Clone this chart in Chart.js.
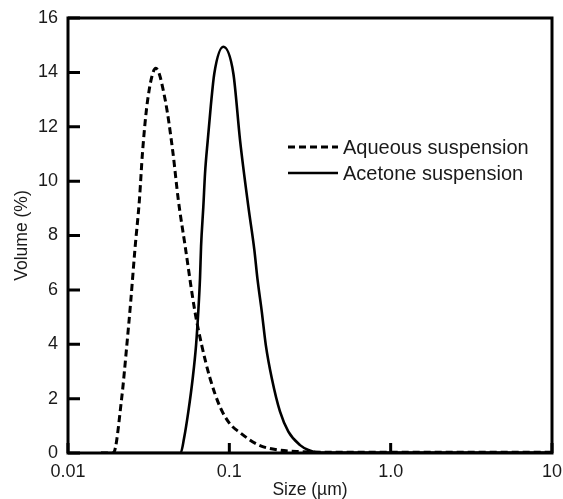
<!DOCTYPE html>
<html lang="en">
<head>
    <meta charset="UTF-8">
    <title>Volume vs size</title>
    <script src="https://cdn.jsdelivr.net/npm/chart.js"></script>
    <style>
        body {
            margin: 0;
            padding: 0;
            background-color: #ffffff;
        }
        .chart-box {
            width: 563px;
            height: 499px;
        }
    </style>
</head>
<body>

<div class="chart-box">
    <canvas id="sizeChart" width="563" height="499"></canvas>
</div>

<script>
    // Dados (tamanho em µm, volume em %)
    const aqueousSize = [0.016, 0.0191, 0.0215, 0.0231, 0.0245, 0.0260, 0.0277, 0.0290, 0.0312, 0.0350,
        0.0400, 0.0446, 0.0483, 0.0531, 0.0612, 0.0674, 0.0759, 0.0875, 0.1, 0.1164, 0.151, 0.2014, 0.28, 0.4, 10];
    const aqueousVolume = [0, 0, 2.0, 3.9, 5.6, 7.5, 9.3, 11.1, 13.0, 14.15,
        13.0, 11.1, 9.3, 7.65, 5.2, 3.97, 2.75, 1.7, 1.1, 0.75, 0.3, 0.11, 0.05, 0.03, 0.03];

    const acetoneSize = [0.016, 0.0499, 0.0524, 0.0557, 0.0593, 0.0622, 0.0642, 0.0658, 0.0668, 0.069,
        0.0707, 0.0735, 0.0767, 0.0807, 0.0918, 0.1059, 0.1165, 0.1312, 0.1429, 0.1492, 0.1589,
        0.1683, 0.1833, 0.2062, 0.2322, 0.2743, 0.309, 0.35, 10];
    const acetoneVolume = [0, 0, 0.54, 1.52, 2.75, 3.97, 5.2, 6.43, 7.6, 9.06,
        10.29, 11.51, 12.74, 13.96, 14.94, 13.96, 11.51, 9.06, 7.47, 6.43, 5.2,
        3.97, 2.75, 1.52, 0.79, 0.29, 0.11, 0.02, 0.02];

    const seriesLabels = ['Aqueous suspension', 'Acetone suspension'];
    const xTicks = [0.01, 0.1, 1, 10];
    const xTickLabels = ['0.01', '0.1', '1.0', '10'];

    const toPoints = (xs, ys) => xs.map((x, i) => ({ x: x, y: ys[i] }));

    // Moldura, marcas internas e legenda dentro da área do gráfico
    const framePlugin = {
        id: 'frame',
        afterDraw(chart) {
            const ctx = chart.ctx;
            const area = chart.chartArea;
            const xs = chart.scales.x;
            const ys = chart.scales.y;
            ctx.save();
            ctx.strokeStyle = '#000';
            ctx.lineWidth = 3;
            ctx.setLineDash([]);
            ctx.beginPath();
            ys.ticks.forEach(t => {
                const py = ys.getPixelForValue(t.value);
                ctx.moveTo(area.left, py);
                ctx.lineTo(area.left + 12, py);
            });
            xs.ticks.forEach(t => {
                const px = xs.getPixelForValue(t.value);
                ctx.moveTo(px, area.bottom);
                ctx.lineTo(px, area.bottom - 10);
            });
            ctx.stroke();
            ctx.lineWidth = 3;
            ctx.strokeRect(area.left, area.top, area.right - area.left, area.bottom - area.top);

            // legenda
            ctx.font = '20px "Liberation Sans", Arial, sans-serif';
            ctx.textBaseline = 'middle';
            ctx.fillStyle = '#1a1a1a';
            chart.data.datasets.forEach((ds, i) => {
                const y = 147 + i * 26;
                ctx.beginPath();
                ctx.lineWidth = ds.borderWidth;
                ctx.setLineDash(ds.borderDash || []);
                ctx.moveTo(288, y);
                ctx.lineTo(338, y);
                ctx.stroke();
                ctx.fillText(ds.label, 343, y + 1);
            });
            ctx.restore();
        }
    };

    const ctxSize = document.getElementById('sizeChart').getContext('2d');
    new Chart(ctxSize, {
        type: 'line',
        data: {
            datasets: [{
                label: seriesLabels[0],
                data: toPoints(aqueousSize, aqueousVolume),
                borderColor: '#000',
                borderWidth: 3,
                borderDash: [7, 4],
                pointRadius: 0,
                cubicInterpolationMode: 'monotone',
                fill: false
            }, {
                label: seriesLabels[1],
                data: toPoints(acetoneSize, acetoneVolume),
                borderColor: '#000',
                borderWidth: 2.6,
                pointRadius: 0,
                cubicInterpolationMode: 'monotone',
                fill: false
            }]
        },
        options: {
            responsive: false,
            animation: false,
            layout: {
                padding: { top: 18, right: 11, left: 0, bottom: 0 }
            },
            plugins: {
                legend: { display: false },
                tooltip: { enabled: false }
            },
            scales: {
                x: {
                    type: 'logarithmic',
                    min: 0.01,
                    max: 10,
                    afterBuildTicks: scale => {
                        scale.ticks = xTicks.map(v => ({ value: v }));
                    },
                    afterFit: scale => {
                        scale.height = 46;
                        scale.paddingRight = 0;
                        scale.paddingLeft = 0;
                    },
                    grid: { display: false, drawTicks: false },
                    border: { display: false },
                    ticks: {
                        autoSkip: false,
                        maxRotation: 0,
                        padding: 8,
                        color: '#1a1a1a',
                        font: { family: '"Liberation Sans", Arial, sans-serif', size: 18 },
                        callback: (value) => {
                            const i = xTicks.indexOf(value);
                            return i >= 0 ? xTickLabels[i] : '';
                        }
                    },
                    title: {
                        display: true,
                        text: 'Size (µm)',
                        color: '#1a1a1a',
                        padding: { top: 0, bottom: 0 },
                        font: { family: '"Liberation Sans", Arial, sans-serif', size: 17.5, lineHeight: 1.05 }
                    }
                },
                y: {
                    min: 0,
                    max: 16,
                    afterFit: scale => {
                        scale.width = 68;
                        scale.paddingTop = 0;
                        scale.paddingBottom = 0;
                    },
                    grid: { display: false, drawTicks: false },
                    border: { display: false },
                    ticks: {
                        stepSize: 2,
                        padding: 10,
                        color: '#1a1a1a',
                        font: { family: '"Liberation Sans", Arial, sans-serif', size: 18 }
                    },
                    title: {
                        display: true,
                        text: 'Volume (%)',
                        color: '#1a1a1a',
                        padding: { top: 13, bottom: 0 },
                        font: { family: '"Liberation Sans", Arial, sans-serif', size: 17.5, lineHeight: 1 }
                    }
                }
            }
        },
        plugins: [framePlugin]
    });
</script>
</body>
</html>
